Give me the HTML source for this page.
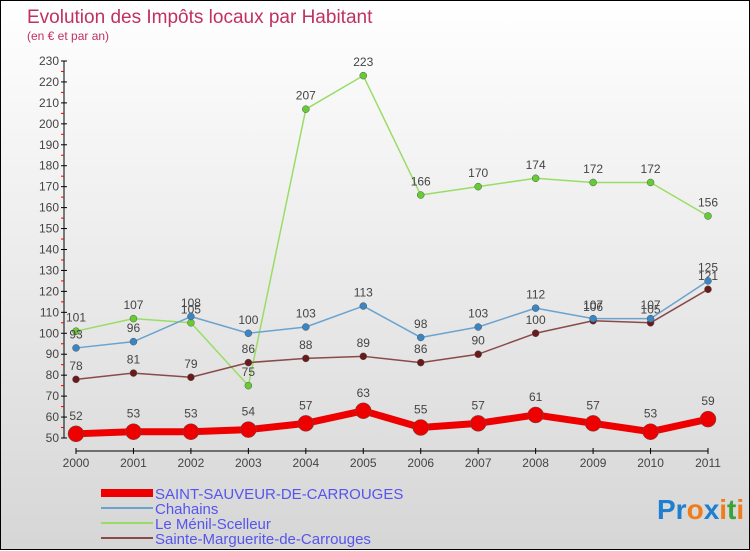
<!DOCTYPE html>
<html><head><meta charset="utf-8"><style>
body{margin:0;width:750px;height:550px;overflow:hidden;font-family:"Liberation Sans",sans-serif}
#wrap{position:relative;width:748px;height:548px;border:1px solid #000;background:linear-gradient(#fff,#d6d6d6)}
svg{position:absolute;left:0;top:0}
</style></head><body>
<div id="wrap">
<svg id="c" width="750" height="550">
<text x="26" y="22" font-size="19" fill="#c0315f">Evolution des Impôts locaux par Habitant</text>
<text x="26" y="39" font-size="12" fill="#c0315f">(en € et par an)</text>
<g id="g"></g>
<text x="656" y="518" font-size="28" font-weight="bold"><tspan fill="#1e7fd0">Pr</tspan><tspan fill="#f07c1a">o</tspan><tspan fill="#1e7fd0">x</tspan><tspan fill="#f07c1a">i</tspan><tspan fill="#3aa33a">t</tspan><tspan fill="#f07c1a">i</tspan></text>
</svg></div>
<script>
const years=[2000,2001,2002,2003,2004,2005,2006,2007,2008,2009,2010,2011];
const yTicks=[50,60,70,80,90,100,110,120,130,140,150,160,170,180,190,200,210,220,230];
const seriesNames=["SAINT-SAUVEUR-DE-CARROUGES","Chahains","Le Ménil-Scelleur","Sainte-Marguerite-de-Carrouges"];
const saintSauveur=[52,53,53,54,57,63,55,57,61,57,53,59];
const chahains=[93,96,108,100,103,113,98,103,112,107,107,125];
const menil=[101,107,105,75,207,223,166,170,174,172,172,156];
const marguerite=[78,81,79,86,88,89,86,90,100,106,105,121];
const NS="http://www.w3.org/2000/svg",g=document.getElementById('g');
const X=i=>75+i*(707-75)/(years.length-1);
const Y=v=>437-(v-50)*(377/180);
function el(t,a,p){const e=document.createElementNS(NS,t);for(const k in a)e.setAttribute(k,a[k]);(p||g).appendChild(e);return e;}
let e;
e=el('line',{x1:63,y1:Y(230),x2:63,y2:437,stroke:'#000'});


e=el('line',{x1:75,y1:450,x2:707,y2:450,stroke:'#000'});


yTicks.forEach((v,i)=>{
 el('line',{x1:60,y1:Y(v),x2:66,y2:Y(v),stroke:'#000'});
 if(i<yTicks.length-1) el('line',{x1:60,y1:Y(v+5),x2:63,y2:Y(v+5),stroke:'#e00'});
 e=el('text',{x:58,y:Y(v)+4,'font-size':12,'text-anchor':'end',fill:'#444'});e.textContent=v;
 
 
});
years.forEach((y,i)=>{
 el('line',{x1:X(i),y1:447,x2:X(i),y2:453,stroke:'#000'});
 e=el('text',{x:X(i),y:466,'font-size':12,'text-anchor':'middle',fill:'#444'});e.textContent=y;
 
 
});
const defs=[[menil,'#99dd66','#66cc33',1.5,3.5,'menil'],[marguerite,'#8a4a4a','#6a1a1a',1.5,3.5,'marguerite'],[chahains,'#6ba3cf','#3a85c4',1.5,3.5,'chahains'],[saintSauveur,'#ee0000','#ee0000',7,8,'saint-sauveur']];
defs.forEach(([d,c,dc,w,r,n])=>{
 e=el('polyline',{points:d.map((v,i)=>X(i)+','+Y(v)).join(' '),fill:'none',stroke:c,'stroke-width':w,'stroke-linejoin':'round'});
 
 
 d.forEach((v,i)=>{
  e=el('circle',{cx:X(i),cy:Y(v),r:r,fill:dc,stroke:'#555','stroke-width':0.5});
  
  
  e=el('text',{x:X(i),y:Y(v)-(r+6),'font-size':12,'text-anchor':'middle',fill:'#444'});e.textContent=v;
  
  
 });
});
const lc=[['#ee0000',8],['#6ba3cf',2],['#99dd66',2],['#8a4a4a',2]];
seriesNames.forEach((s,i)=>{
 const y=492+i*15;
 e=el('line',{x1:100,y1:y,x2:152,y2:y,stroke:lc[i][0],'stroke-width':lc[i][1]});
 
 
 e=el('text',{x:154,y:y+6,'font-size':15,fill:'#5555ee'});e.textContent=s;
 
 
});
</script></body></html>
